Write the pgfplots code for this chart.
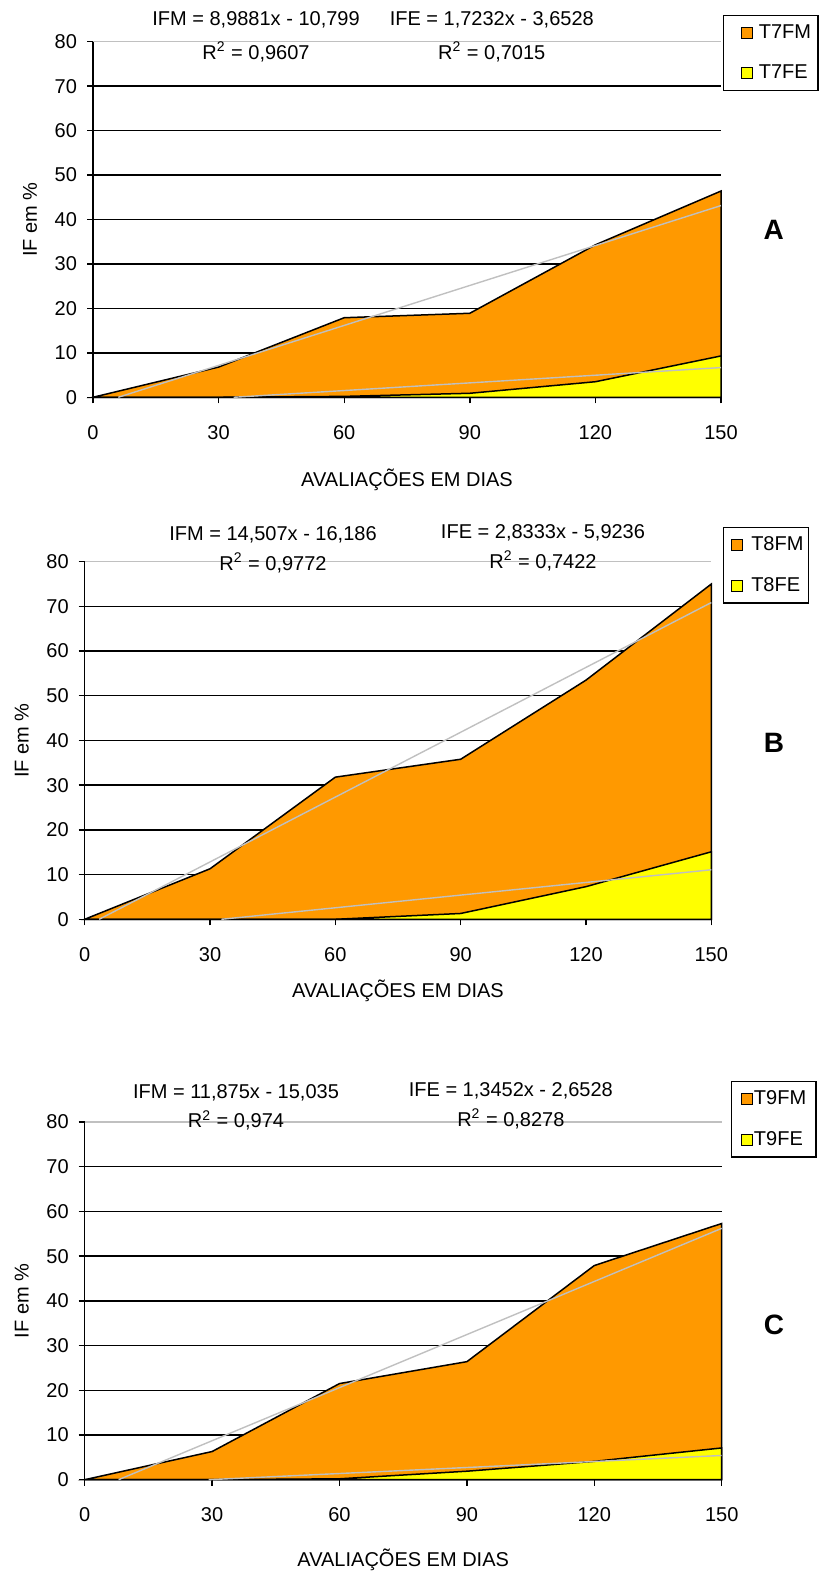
\documentclass[border=0pt]{standalone}
\usepackage{fontspec}
\setmainfont{Liberation Sans}
\usepackage{pgfplots}
\pgfplotsset{compat=1.18}

\definecolor{areaFM}{RGB}{255,153,0}
\definecolor{areaFE}{RGB}{255,255,0}
\definecolor{trend}{RGB}{192,192,192}

\tikzset{letter/.style={font=\fontsize{14}{16}\selectfont\bfseries}}

\pgfplotsset{
  panel/.style={
    anchor=south west, scale only axis,
    xmin=0, xmax=150, ymin=0, ymax=80,
    xtick={0,30,60,90,120,150},
    ytick={0,10,20,30,40,50,60,70},
    extra y ticks={80},
    extra y tick style={grid style={trend, line width=0.6pt}},
    ymajorgrids, grid style={black, line width=0.7pt},
    axis x line*=bottom, axis y line*=left,
    axis line style={black, line width=0.7pt},
    tick align=outside, major tick length=3pt,
    tick style={black, line width=0.7pt},
    /pgf/number format/assume math mode=true,
    xticklabel style={anchor=center, yshift=-14.6pt},
    yticklabel style={anchor=east, xshift=-1.5pt},
    ylabel={IF em \%},
    ylabel style={at={(axis description cs:0,0.5)}, anchor=center, yshift=31.5pt},
    xlabel={AVALIAÇÕES EM DIAS},
    clip=false,
    legend cell align=left,
    legend style={anchor=north west, draw=black, line width=0.7pt, fill=white,
      inner ysep=3.9pt, row sep=10.8pt,
      nodes={inner xsep=0.5pt, inner ysep=0.5pt}},
  },
  % legend square with a left offset #1
  sq/.style={legend image code/.code={%
    \path (0pt,0pt);
    \draw[##1, line width=0.5pt] (#1,-2.75pt) rectangle ++(5.5pt,5.5pt);}},
  fm/.style={fill=areaFM, draw=black, line width=0.75pt},
  fe/.style={fill=areaFE, draw=black, line width=0.75pt},
  tl/.style={trend, line width=0.7pt, forget plot},
}

\begin{document}
\begin{tikzpicture}
\useasboundingbox (0,0) rectangle (410pt,786.5pt);

% ---------- A ----------
\begin{axis}[panel, sq=5.5pt,
  at={(46.5pt,587.85pt)}, width=314pt, height=177.8pt,
  xlabel style={at={(axis description cs:0.5,0)}, anchor=center, yshift=-41.5pt},
  legend style={at={(1.003,1.075)}, inner xsep=3pt, column sep=2.5pt},
]
\addplot[fm] coordinates {(0,0) (30,6.8) (60,17.9) (90,18.9) (120,34.3) (150,46.4)} \closedcycle;
\addlegendentry{T7FM}
\addplot[fe] coordinates {(0,0) (30,0) (60,0.2) (90,0.9) (120,3.5) (150,9.3)} \closedcycle;
\addlegendentry{T7FE}
\addplot[tl] coordinates {(6.04,0) (150,43.13)};
\addplot[tl] coordinates {(33.6,0) (150,6.686)};
\node at (rel axis cs:0.2596,1.061) {IFM = 8,9881x - 10,799};
\node at (rel axis cs:0.2596,0.971) {R\textsuperscript{2} = 0,9607};
\node at (rel axis cs:0.635,1.061) {IFE = 1,7232x - 3,6528};
\node at (rel axis cs:0.635,0.971) {R\textsuperscript{2} = 0,7015};
\node[letter] at (rel axis cs:1.084,0.470) {A};
\end{axis}

% ---------- B ----------
\begin{axis}[panel, sq=1.5pt,
  at={(42.35pt,326.85pt)}, width=313.3pt, height=178.8pt,
  xlabel style={at={(axis description cs:0.5,0)}, anchor=center, yshift=-36pt},
  legend style={at={(1.0187,1.097)}, inner xsep=2.15pt, column sep=3.5pt},
]
\addplot[fm] coordinates {(0,0) (30,11.3) (60,31.8) (90,35.8) (120,53.5) (150,75.0)} \closedcycle;
\addlegendentry{T8FM}
\addplot[fe] coordinates {(0,0) (30,0) (60,0) (90,1.3) (120,7.3) (150,15.1)} \closedcycle;
\addlegendentry{T8FE}
\addplot[tl] coordinates {(3.47,0) (150,70.856)};
\addplot[tl] coordinates {(32.72,0) (150,11.076)};
\node at (rel axis cs:0.3005,1.0747) {IFM = 14,507x - 16,186};
\node at (rel axis cs:0.3005,0.9963) {R\textsuperscript{2} = 0,9772};
\node at (rel axis cs:0.7314,1.0803) {IFE = 2,8333x - 5,9236};
\node at (rel axis cs:0.7314,1.002) {R\textsuperscript{2} = 0,7422};
\node[letter] at (rel axis cs:1.100,0.493) {B};
\end{axis}

% ---------- C ----------
\begin{axis}[panel, sq=0pt,
  at={(42.35pt,46.65pt)}, width=318.5pt, height=178.85pt,
  xlabel style={at={(axis description cs:0.5,0)}, anchor=center, yshift=-40pt},
  legend style={at={(1.0146,1.1146)}, inner xsep=4.5pt, column sep=0pt},
]
\addplot[fm] coordinates {(0,0) (30,6.3) (60,21.5) (90,26.4) (120,47.9) (150,57.3)} \closedcycle;
\addlegendentry{T9FM}
\addplot[fe] coordinates {(0,0) (30,0) (60,0.2) (90,1.9) (120,4.1) (150,7.1)} \closedcycle;
\addlegendentry{T9FE}
\addplot[tl] coordinates {(7.98,0) (150,56.215)};
\addplot[tl] coordinates {(29.16,0) (150,5.418)};
\node at (rel axis cs:0.2375,1.081) {IFM = 11,875x - 15,035};
\node at (rel axis cs:0.2375,1.0036) {R\textsuperscript{2} = 0,974};
\node at (rel axis cs:0.669,1.0867) {IFE = 1,3452x - 2,6528};
\node at (rel axis cs:0.669,1.0084) {R\textsuperscript{2} = 0,8278};
\node[letter] at (rel axis cs:1.082,0.432) {C};
\end{axis}
\end{tikzpicture}
\end{document}
